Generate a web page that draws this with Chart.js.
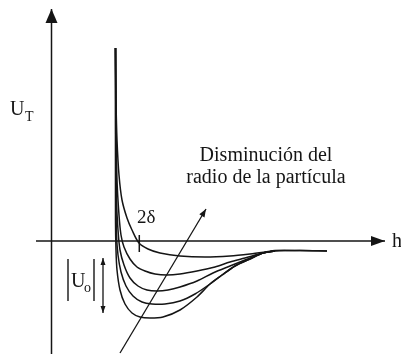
<!DOCTYPE html>
<html>
<head>
<meta charset="utf-8">
<script src="https://cdn.jsdelivr.net/npm/chart.js@4/dist/chart.umd.min.js"></script>
<style>
  html, body { margin: 0; padding: 0; background: #fff; }
  #wrap { width: 401px; height: 354px; }
</style>
</head>
<body>
<div id="wrap"><canvas id="pot" width="401" height="354"></canvas></div>
<script>
  // visible window, in h / U units
  const H_RANGE = [-5.15, 34.95];
  const U_RANGE = [-11.3, 24.1];

  // axes and guide marks, as [h, U]
  const hAxis = [[-1.55, 0], [33.35, 0]];
  const uAxis = [[0, -11.3], [0, 23.2]];
  const tick2d = [[8.78, 0.6], [8.78, -1.1]];
  const radiusArrow = [[6.85, -11.2], [15.45, 3.2]];
  const u0Arrow = [[5.15, -1.7], [5.15, -7.2]];
  const u0Bars = [1.65, 4.25, -1.8, -6.0]; // left h, right h, top U, bottom U

  // total interaction energy U_T(h), one curve per particle radius
  const curve1 = [
    [6.40, 19.30], [6.45, 14.10], [6.55, 10.10], [6.75, 6.60], [7.05, 4.10],
    [7.55, 2.30], [8.05, 1.10], [8.75, -0.20], [9.65, -0.80], [10.85, -1.20],
    [12.85, -1.50], [15.35, -1.60], [17.85, -1.50], [19.85, -1.30],
    [21.35, -1.10], [22.35, -0.95], [24.85, -0.95], [27.55, -1.00],
  ];
  const curve2 = [
    [6.40, 19.30], [6.45, 12.10], [6.55, 6.10], [6.75, 2.60], [6.95, 0.60],
    [7.25, -0.60], [7.85, -1.80], [8.55, -2.60], [9.35, -3.00], [10.35, -3.30],
    [11.55, -3.40], [12.85, -3.30], [14.55, -3.00], [16.35, -2.60],
    [17.85, -2.10], [19.35, -1.70], [21.15, -1.20], [22.35, -1.00],
    [24.85, -0.95], [27.55, -1.00],
  ];
  const curve3 = [
    [6.40, 19.30], [6.45, 9.10], [6.50, 4.10], [6.65, 1.10], [6.85, -0.90],
    [7.25, -2.40], [7.85, -3.70], [8.65, -4.50], [9.55, -4.90], [10.55, -5.00],
    [11.65, -4.90], [12.85, -4.60], [14.55, -4.00], [16.15, -3.20],
    [17.85, -2.50], [19.35, -1.90], [21.15, -1.20], [22.35, -1.00],
  ];
  const curve4 = [
    [6.40, 19.30], [6.45, 4.10], [6.50, 0.60], [6.65, -1.40], [6.95, -3.10],
    [7.45, -4.50], [8.15, -5.50], [9.05, -6.10], [10.05, -6.30], [11.35, -6.30],
    [12.85, -6.00], [14.35, -5.30], [15.85, -4.30], [17.05, -3.40],
    [18.35, -2.50], [19.85, -1.80], [21.15, -1.20], [22.35, -1.00],
  ];
  const curve5 = [
    [6.40, 19.30], [6.40, 2.10], [6.45, -0.90], [6.55, -2.90], [6.85, -4.90],
    [7.35, -6.30], [8.05, -7.20], [8.85, -7.60], [9.85, -7.70], [11.15, -7.60],
    [12.85, -6.90], [14.55, -5.60], [15.85, -4.30], [17.05, -3.40],
    [18.35, -2.50], [19.85, -1.80], [21.15, -1.20], [22.35, -1.00],
  ];

  const INK = "#151515";
  const SERIF = "'Liberation Serif', 'Times New Roman', serif";

  const toXY = (pts) => pts.map(([x, y]) => ({ x, y }));

  function line(pts, width, tension) {
    return {
      data: toXY(pts),
      showLine: true,
      borderColor: INK,
      borderWidth: width,
      pointRadius: 0,
      tension: tension || 0,
      fill: false,
    };
  }

  // filled arrowhead with its tip on `to`, pointing away from `from`
  function head(ctx, from, to, len, wid) {
    const a = Math.atan2(to[1] - from[1], to[0] - from[0]);
    const bx = to[0] - len * Math.cos(a);
    const by = to[1] - len * Math.sin(a);
    const nx = Math.sin(a) * wid / 2;
    const ny = -Math.cos(a) * wid / 2;
    ctx.beginPath();
    ctx.moveTo(to[0], to[1]);
    ctx.lineTo(bx + nx, by + ny);
    ctx.lineTo(bx - nx, by - ny);
    ctx.closePath();
    ctx.fill();
  }

  const overlay = {
    id: "overlay",
    afterDatasetsDraw(chart) {
      const { ctx } = chart;
      const sx = chart.scales.x;
      const sy = chart.scales.y;
      const px = (p) => [sx.getPixelForValue(p[0]), sy.getPixelForValue(p[1])];

      ctx.save();
      ctx.fillStyle = INK;
      ctx.strokeStyle = INK;

      head(ctx, px(hAxis[0]), px(hAxis[1]), 14, 10);
      head(ctx, px(uAxis[0]), px(uAxis[1]), 14, 12);
      head(ctx, px(radiusArrow[0]), px(radiusArrow[1]), 8, 6);
      head(ctx, px(u0Arrow[1]), px(u0Arrow[0]), 7, 5);
      head(ctx, px(u0Arrow[0]), px(u0Arrow[1]), 7, 5);

      // |U0| bars
      ctx.lineWidth = 1.4;
      [u0Bars[0], u0Bars[1]].forEach((h) => {
        const top = px([h, u0Bars[2]]);
        const bot = px([h, u0Bars[3]]);
        ctx.beginPath();
        ctx.moveTo(top[0], top[1]);
        ctx.lineTo(bot[0], bot[1]);
        ctx.stroke();
      });

      const text = (s, p, size, align) => {
        const [x, y] = px(p);
        ctx.font = `${size}px ${SERIF}`;
        ctx.textAlign = align || "left";
        ctx.textBaseline = "alphabetic";
        ctx.fillText(s, x, y);
      };

      text("U", [-4.15, 12.6], 20);
      text("T", [-2.65, 12.0], 14);
      text("h", [34.05, -0.6], 20);
      text("2δ", [8.55, 1.8], 19);
      text("U", [1.95, -4.6], 20);
      text("o", [3.25, -5.1], 14);
      text("Disminución del", [21.45, 8.0], 20, "center");
      text("radio de la partícula", [21.45, 5.8], 20, "center");

      ctx.restore();
    },
  };

  new Chart(document.getElementById("pot"), {
    type: "scatter",
    data: {
      datasets: [
        line(hAxis, 1.5),
        line(uAxis, 1.5),
        line(tick2d, 1.5),
        line(radiusArrow, 1.3),
        line(u0Arrow, 1.3),
        line(curve1, 1.5, 0.3),
        line(curve2, 1.5, 0.3),
        line(curve3, 1.5, 0.3),
        line(curve4, 1.5, 0.3),
        line(curve5, 1.5, 0.3),
      ],
    },
    options: {
      responsive: false,
      animation: false,
      layout: { padding: 0 },
      plugins: { legend: { display: false }, tooltip: { enabled: false } },
      scales: {
        x: { type: "linear", display: false, min: H_RANGE[0], max: H_RANGE[1] },
        y: { type: "linear", display: false, min: U_RANGE[0], max: U_RANGE[1] },
      },
    },
    plugins: [overlay],
  });
</script>
</body>
</html>
